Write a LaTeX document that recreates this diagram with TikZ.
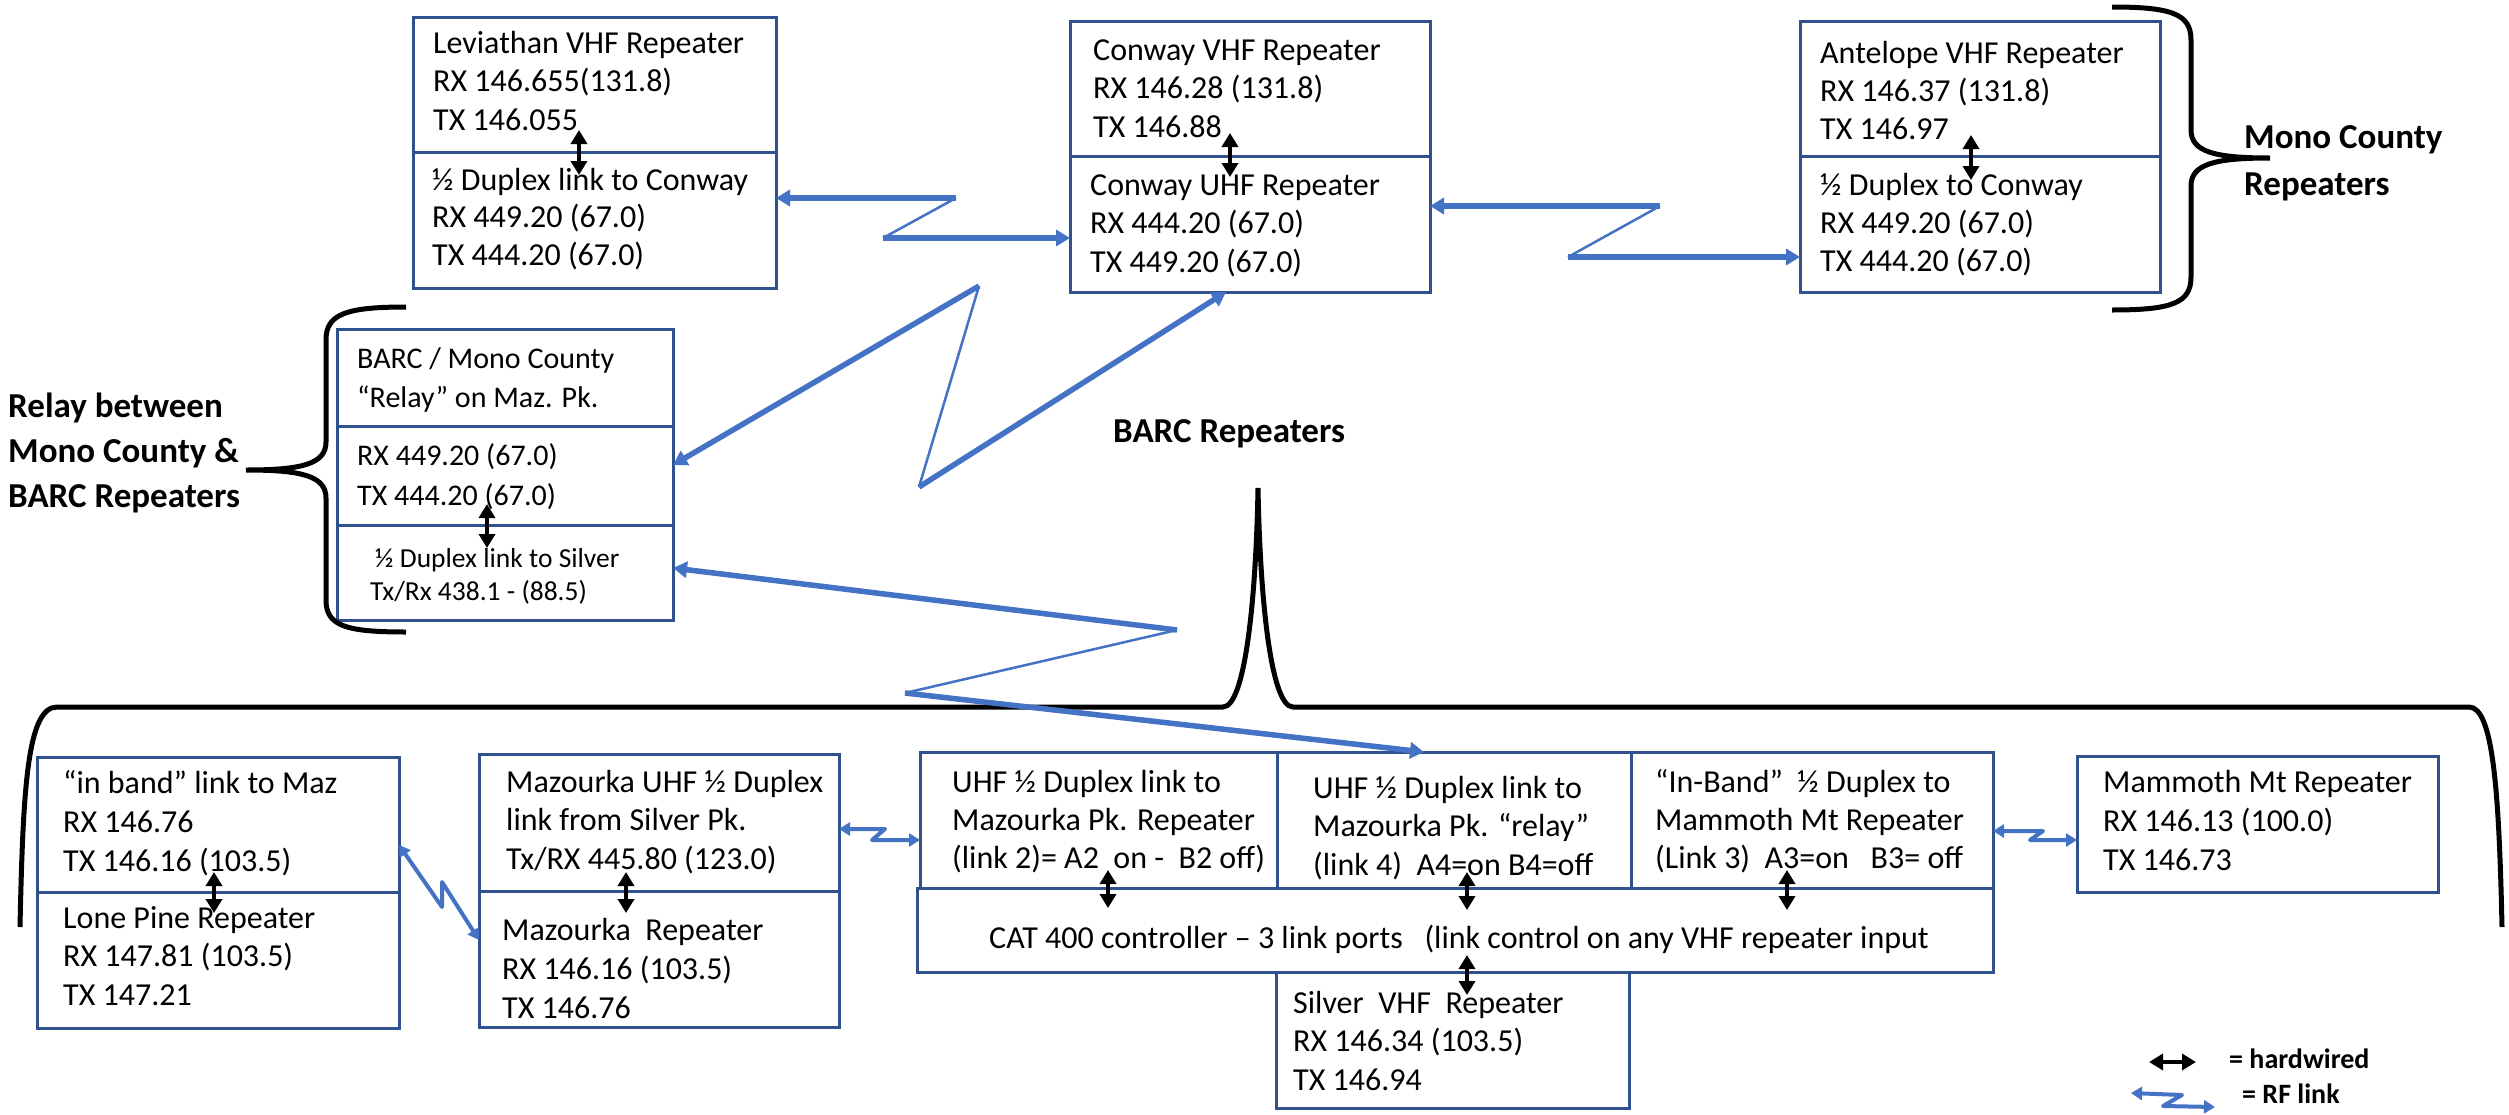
\documentclass[tikz,border=0pt]{standalone}
\usepackage{fontspec}
\setmainfont{Carlito}
\usetikzlibrary{arrows.meta}
\definecolor{boxblue}{HTML}{2F528F}
\definecolor{linkblue}{HTML}{4472C4}
\newcommand\rbox[5]{\node[bx,anchor=north west,minimum width={#4-#2},minimum height={#5-#3}] (#1) at (#2,#3) {};}
\newcommand\tlines[6][]{\foreach \tl [count=\ti] in {#6} {\node[txt,#1] (#2\ti) at (#3,{#4+(\ti-1)*#5}) {\tl};}}
\begin{document}
\begin{tikzpicture}[x=1pt,y=-1pt,
  bx/.style={draw=boxblue,line width=3pt,inner sep=0pt,outer sep=0pt,rectangle},
  txt/.style={anchor=base west,inner sep=0pt,font=\fontsize{32}{38}\selectfont},
  relfont/.style={font=\fontsize{30}{36}\selectfont},
  smallfont/.style={font=\fontsize{27.5}{33}\selectfont},
  lbl/.style={anchor=base west,inner sep=0pt,font=\bfseries\fontsize{35}{42}\selectfont},
  leg/.style={anchor=base west,inner sep=0pt,font=\bfseries\fontsize{28}{34}\selectfont},
  hw/.style={line width=4.5pt,{Triangle[width=16pt,length=14pt]}-{Triangle[width=16pt,length=14pt]}},
  brace/.style={draw=black,line width=5pt},
  rfthick/.style={draw=linkblue,line width=5.5pt},
  rfthin/.style={draw=linkblue,line width=2.5pt},
  rftip/.style={-{Triangle[width=16pt,length=14pt]}},
  rfmed/.style={draw=linkblue,line width=4pt,line join=round,{Triangle[width=13pt,length=11pt]}-{Triangle[width=13pt,length=11pt]}}
]
\useasboundingbox[fill=white] (0,0) rectangle (2509,1114);

% ---------- boxes ----------
\rbox{levA}{413}{17}{776}{152}
\rbox{levB}{413}{152}{776}{288}
\rbox{conA}{1070}{21}{1430}{156}
\rbox{conB}{1070}{156}{1430}{292}
\rbox{antA}{1800}{21}{2160}{156}
\rbox{antB}{1800}{156}{2160}{292}
\rbox{relA}{337}{329}{673}{426}
\rbox{relB}{337}{426}{673}{525}
\rbox{relC}{337}{525}{673}{620}
\rbox{lpA}{37}{757}{399}{892}
\rbox{lpB}{37}{892}{399}{1028}
\rbox{mazA}{479}{754}{839}{891}
\rbox{mazB}{479}{891}{839}{1027}
\rbox{lkb}{920}{752}{1277}{888}
\rbox{lkd}{1277}{752}{1631}{888}
\rbox{lkc}{1631}{752}{1993}{888}
\rbox{cat}{917}{888}{1993}{972}
\rbox{slv}{1276}{972}{1629}{1108}
\rbox{mam}{2077}{756}{2438}{892}

% ---------- texts ----------
\tlines{levAt}{433}{53}{38.5}{Leviathan VHF Repeater, RX 146.655(131.8), TX 146.055}
\tlines{levBt}{432}{190}{37.5}{½ Duplex link to Conway, RX 449.20 (67.0), TX 444.20 (67.0)}
\tlines{conAt}{1093}{60}{38.5}{Conway VHF Repeater, RX 146.28 (131.8), TX 146.88}
\tlines{conBt}{1090}{195}{38.5}{Conway UHF Repeater, RX 444.20 (67.0), TX 449.20 (67.0)}
\tlines{antAt}{1820}{63}{38}{Antelope VHF Repeater, RX 146.37 (131.8), TX 146.97}
\tlines{antBt}{1820}{195}{38}{½ Duplex to Conway, RX 449.20 (67.0), TX 444.20 (67.0)}
\tlines[relfont]{relAt}{357}{368}{39}{BARC / Mono County, “Relay” on Maz. Pk.}
\tlines[relfont]{relBt}{357}{465}{40}{RX 449.20 (67.0), TX 444.20 (67.0)}
\node[txt,smallfont] (relCt1) at (375,567) {½ Duplex link to Silver};
\node[txt,smallfont] (relCt2) at (370,600) {Tx/Rx 438.1 - (88.5)};
\tlines{lpAt}{63}{793}{39}{“in band” link to Maz, RX 146.76, TX 146.16 (103.5)}
\tlines{lpBt}{63}{928}{38.5}{Lone Pine Repeater, RX 147.81 (103.5), TX 147.21}
\tlines{mazAt}{506}{792}{38.5}{Mazourka UHF ½ Duplex, link from Silver Pk., Tx/RX 445.80 (123.0)}
\tlines{mazBt}{502}{940}{39}{Mazourka\ \ Repeater, RX 146.16 (103.5), TX 146.76}
\tlines{lkbt}{952}{792}{38}{UHF ½ Duplex link to, Mazourka Pk. Repeater, {(link 2)= A2\ \ on -\ \ B2 off)}}
\tlines{lkdt}{1313}{798}{38.5}{UHF ½ Duplex link to, Mazourka Pk. “relay”, {(link 4)\ \ A4=on B4=off}}
\tlines{lkct}{1655}{792}{38}{“In-Band”\ \ ½ Duplex to, Mammoth Mt Repeater, {(Link 3)\ \ A3=on\ \ \ B3= off}}
\node[txt] (catt) at (989,948) {CAT 400 controller – 3 link ports\ \ \ (link control on any VHF repeater input};
\tlines{slvt}{1293}{1013}{38.5}{Silver\ \ VHF\ \ Repeater, RX 146.34 (103.5), TX 146.94}
\tlines{mamt}{2103}{792}{39}{Mammoth Mt Repeater, RX 146.13 (100.0), TX 146.73}

% ---------- bold labels ----------
\node[lbl] (mono1) at (2244,148) {Mono County};
\node[lbl] (mono2) at (2244,195) {Repeaters};
\node[lbl] (rel1) at (8,417) {Relay between};
\node[lbl] (rel2) at (8,462) {Mono County \&};
\node[lbl] (rel3) at (8,507) {BARC Repeaters};
\node[lbl] (barc) at (1113,442) {BARC Repeaters};
\node[leg] (leghw) at (2229,1068) {= hardwired};
\node[leg] (legrf) at (2242,1103) {= RF link};

% ---------- braces ----------
\draw[brace] (2112,7) .. controls (2172,7) and (2191,14) .. (2191,40) -- (2191,130)
  .. controls (2191,152) and (2215,158) .. (2270,158)
  .. controls (2215,158) and (2191,164) .. (2191,186) -- (2191,277)
  .. controls (2191,303) and (2172,310) .. (2112,310);
\draw[brace] (406,307) .. controls (346,307) and (326,314) .. (326,340) -- (326,442)
  .. controls (326,464) and (302,470) .. (246,470)
  .. controls (302,470) and (326,476) .. (326,498) -- (326,600)
  .. controls (326,626) and (346,632) .. (406,632);
\draw[brace] (20,927) .. controls (23,790) and (27,707) .. (57,707) -- (1223,707)
  .. controls (1245,707) and (1256,600) .. (1258,488)
  .. controls (1260,600) and (1271,707) .. (1293,707) -- (2469,707)
  .. controls (2493,707) and (2499,790) .. (2502,927);

% ---------- hardwired links ----------
\coordinate (h1a) at (579,130); \coordinate (h1b) at (579,175);
\coordinate (h2a) at (1230,133); \coordinate (h2b) at (1230,177);
\coordinate (h3a) at (1971,135); \coordinate (h3b) at (1971,180);
\coordinate (h4a) at (487,504); \coordinate (h4b) at (487,548);
\coordinate (h5a) at (214,872); \coordinate (h5b) at (214,913);
\coordinate (h6a) at (626,872); \coordinate (h6b) at (626,913);
\coordinate (h7a) at (1108,870); \coordinate (h7b) at (1108,908);
\coordinate (h8a) at (1467,872); \coordinate (h8b) at (1467,910);
\coordinate (h9a) at (1467,955); \coordinate (h9b) at (1467,995);
\coordinate (h10a) at (1787,870); \coordinate (h10b) at (1787,910);
\coordinate (lgha) at (2149,1062); \coordinate (lghb) at (2196,1062);
\foreach \h in {h1,h2,h3,h4,h5,h6,h7,h8,h9,h10,lgh} {\draw[hw] (\h a) -- (\h b);}

% ---------- RF links ----------
\coordinate (z1a) at (956,198); \coordinate (z1b) at (883,238);
\draw[rfthick,rftip] (z1a) -- (z1a -| levB.east);
\draw[rfthin] (z1a) -- (z1b);
\draw[rfthick,rftip] (z1b) -- (z1b -| conB.west);

\coordinate (z2a) at (1660,206); \coordinate (z2b) at (1568,257);
\draw[rfthick,rftip] (z2a) -- (z2a -| conB.east);
\draw[rfthin] (z2a) -- (z2b);
\draw[rfthick,rftip] (z2b) -- (z2b -| antB.west);

\coordinate (z3a) at (979,286); \coordinate (z3b) at (919,487);
\coordinate (t3a) at (673,465); \coordinate (t3b) at (1226,292);
\draw[rfthick,rftip] (z3a) -- (t3a);
\draw[rfthin] (z3a) -- (z3b);
\draw[rfthick,rftip] (z3b) -- (t3b);

\coordinate (z4a) at (1177,630); \coordinate (z4b) at (905,693);
\coordinate (t4a) at (673,568); \coordinate (t4b) at (1424,752);
\draw[rfthick,rftip] (z4a) -- (t4a);
\draw[rfthin] (z4a) -- (z4b);
\draw[rfthick,rftip] (z4b) -- (t4b);

\coordinate (z5a) at (442,907); \coordinate (z5b) at (442,882);
\draw[rfmed] (lpA.east |- 0,845) -- (z5a) -- (z5b) -- (mazB.west |- 0,940);

\coordinate (z6a) at (885,829); \coordinate (z6b) at (872,840);
\draw[rfmed] (z6a -| mazA.east) -- (z6a) -- (z6b) -- (z6b -| lkb.west);

\coordinate (z7a) at (2043,831); \coordinate (z7b) at (2030,840);
\draw[rfmed] (z7a -| lkc.east) -- (z7a) -- (z7b) -- (z7b -| mam.west);

\coordinate (lg1) at (2131,1093); \coordinate (lg2) at (2182,1095);
\coordinate (lg3) at (2163,1106); \coordinate (lg4) at (2215,1107);
\draw[rfmed] (lg1) -- (lg2) -- (lg3) -- (lg4);
\end{tikzpicture}
\end{document}
